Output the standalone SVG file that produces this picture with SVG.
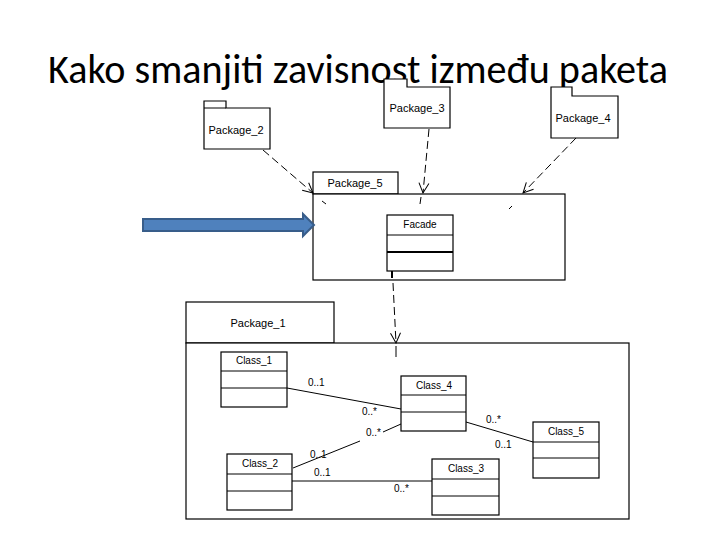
<svg xmlns="http://www.w3.org/2000/svg" width="720" height="540" viewBox="0 0 720 540">
<style>
.box{fill:#fff;stroke:#000;stroke-width:1.2}
.ln{stroke:#000;stroke-width:1;fill:none}
.dash{stroke:#000;stroke-width:1;fill:none;stroke-dasharray:8,4}
.pk{font-family:"Liberation Sans",Arial,sans-serif;font-size:11px;fill:#000;text-anchor:middle}
.cl{font-family:"Liberation Sans",Arial,sans-serif;font-size:10px;fill:#000;text-anchor:middle}
.m{font-family:"Liberation Sans",Arial,sans-serif;font-size:10px;fill:#000}
.title{font-family:Carlito,"Liberation Sans Narrow","Open Sans",sans-serif;font-size:40px;fill:#000}
</style>
<defs>
<marker id="open" markerWidth="12" markerHeight="12" refX="11" refY="6" orient="auto" markerUnits="userSpaceOnUse">
<path d="M1,1 L11,6 L1,11" fill="none" stroke="#000" stroke-width="1"/>
</marker>
</defs>
<rect width="720" height="540" fill="#fff"/>
<text class="title" x="48" y="83" textLength="620" lengthAdjust="spacingAndGlyphs">Kako smanjiti zavisnost između paketa</text>

<g id="package_2">
<path class="box" d="M204,149 V101 H226 V108 H270 V149 Z"/>
<line class="ln" x1="204" y1="108" x2="226" y2="108"/>
<text class="pk" x="236" y="134">Package_2</text>
</g>
<g id="package_3">
<path class="box" d="M384,128 V79 H407 V87 H450 V128 Z"/>
<text class="pk" x="417" y="112">Package_3</text>
</g>
<g id="package_4">
<path class="box" d="M551,138 V87 H572 V96 H618 V138 Z"/>
<text class="pk" x="583" y="122">Package_4</text>
</g>
<g id="package_5">
<rect class="box" x="313" y="172" width="85" height="22"/>
<text class="pk" x="355" y="187">Package_5</text>
<rect class="box" x="313" y="194" width="252" height="86"/>
</g>
<g id="facade">
<rect class="box" x="387" y="215" width="66" height="56"/>
<line class="ln" x1="387" y1="235" x2="453" y2="235"/>
<line x1="387" y1="252" x2="453" y2="252" stroke="#000" stroke-width="2"/>
<text class="cl" x="420" y="228">Facade</text>
</g>
<g id="package_1">
<rect class="box" x="186" y="302" width="148" height="41"/>
<text class="pk" x="258" y="327">Package_1</text>
<rect class="box" x="186" y="343" width="443" height="176"/>
</g>
<g id="class_1">
<rect class="box" x="221" y="352" width="66" height="55"/>
<line class="ln" x1="221" y1="371" x2="287" y2="371"/>
<line class="ln" x1="221" y1="388" x2="287" y2="388"/>
<text class="cl" x="254" y="364">Class_1</text>
</g>
<g id="class_4">
<rect class="box" x="401" y="376" width="65" height="55"/>
<line class="ln" x1="401" y1="395" x2="466" y2="395"/>
<line class="ln" x1="401" y1="412" x2="466" y2="412"/>
<text class="cl" x="434" y="389">Class_4</text>
</g>
<g id="class_5">
<rect class="box" x="533" y="422" width="66" height="56"/>
<line class="ln" x1="533" y1="442" x2="599" y2="442"/>
<line class="ln" x1="533" y1="458" x2="599" y2="458"/>
<text class="cl" x="566" y="435">Class_5</text>
</g>
<g id="class_3">
<rect class="box" x="432" y="459" width="67" height="56"/>
<line class="ln" x1="432" y1="479" x2="499" y2="479"/>
<line class="ln" x1="432" y1="496" x2="499" y2="496"/>
<text class="cl" x="466" y="472">Class_3</text>
</g>
<g id="class_2">
<rect class="box" x="227" y="454" width="65" height="56"/>
<line class="ln" x1="227" y1="474" x2="292" y2="474"/>
<line class="ln" x1="227" y1="491" x2="292" y2="491"/>
<text class="cl" x="260" y="467">Class_2</text>
</g>

<g id="blue_arrow">
<path d="M143,219 H303 V214 L314,225 L303,236 V231 H143 Z" fill="#4F81BD" stroke="#385D8A" stroke-width="2"/>
</g>

<g id="connectors">
<path class="dash" d="M263,150 L313,193" marker-end="url(#open)"/>
<line class="ln" x1="322" y1="201" x2="326" y2="204"/>
<path class="dash" d="M429,129 L423,193" marker-end="url(#open)"/>
<line class="ln" x1="421" y1="197" x2="420" y2="204"/>
<path class="dash" d="M576,138 L523,193" marker-end="url(#open)"/>
<line class="ln" x1="512" y1="206" x2="509" y2="209"/>
<line x1="392" y1="271" x2="392" y2="278" stroke="#000" stroke-width="2"/>
<path class="dash" d="M393,283 L396,343" marker-end="url(#open)"/>
<line class="ln" x1="396" y1="346" x2="396" y2="357"/>

<line class="ln" x1="287" y1="388" x2="401" y2="409"/>
<path class="ln" d="M293,468 L360,441 M383,432 L401,424"/>
<line class="ln" x1="292" y1="481" x2="432" y2="481"/>
<line class="ln" x1="466" y1="422" x2="533" y2="442"/>

<text class="m" x="308" y="386">0..1</text>
<text class="m" x="362" y="415">0..*</text>
<text class="m" x="366" y="436">0..*</text>
<text class="m" x="310" y="458">0..1</text>
<text class="m" x="314" y="476">0..1</text>
<text class="m" x="394" y="492">0..*</text>
<text class="m" x="486" y="423">0..*</text>
<text class="m" x="495" y="448">0..1</text>
</g>
</svg>
